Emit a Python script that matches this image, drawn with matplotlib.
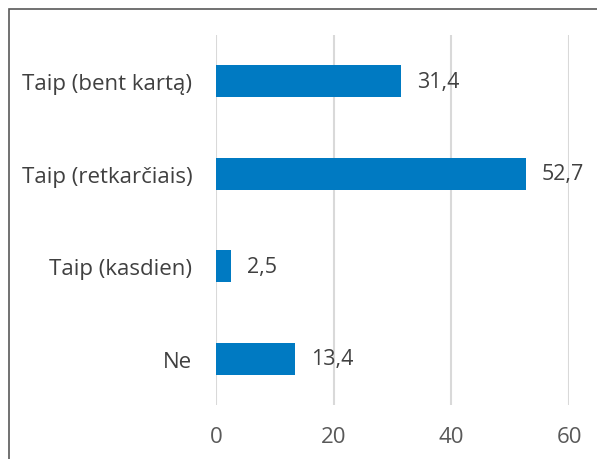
import matplotlib.pyplot as plt
from matplotlib.patches import Rectangle

# --- duomenys ---
categories = ["Taip (bent kartą)", "Taip (retkarčiais)", "Taip (kasdien)", "Ne"]
values = [31.4, 52.7, 2.5, 13.4]
x_ticks = [0, 20, 40, 60]

plt.rcParams['font.family'] = ['Open Sans', 'DejaVu Sans']

fig = plt.figure(figsize=(5.97, 4.6), dpi=100)
ax = fig.add_axes([216 / 597, 1 - 406 / 460, 353 / 597, 370 / 460])

# rėmelis aplink grafiką
fig.patches.append(Rectangle((9 / 597, -0.1), 1.2, 1 - 10 / 460 + 0.1,
                             transform=fig.transFigure, fill=False,
                             edgecolor='#595959', linewidth=1.2))

y = list(range(len(categories)))
ax.barh(y, values, height=0.35, color='#007AC2', zorder=3)
for yi, v in zip(y, values):
    ax.annotate(f"{v:.1f}".replace('.', ','), (v, yi), xytext=(16, 0),
                textcoords='offset pixels', va='center', ha='left',
                fontsize=15.5, color='#404040')

ax.set_ylim(len(categories) - 0.5, -0.5)
ax.set_xlim(0, 60)
ax.set_yticks(y)
ax.set_yticklabels(categories)
ax.set_xticks(x_ticks)
ax.tick_params(axis='y', length=0, pad=17, labelsize=16, labelcolor='#404040')
ax.tick_params(axis='x', length=0, pad=15, labelsize=16, labelcolor='#595959')
ax.grid(axis='x', color='#d9d9d9', linewidth=1.5, zorder=0)
for s in ax.spines.values():
    s.set_visible(False)

plt.savefig('out.png', dpi=100)
